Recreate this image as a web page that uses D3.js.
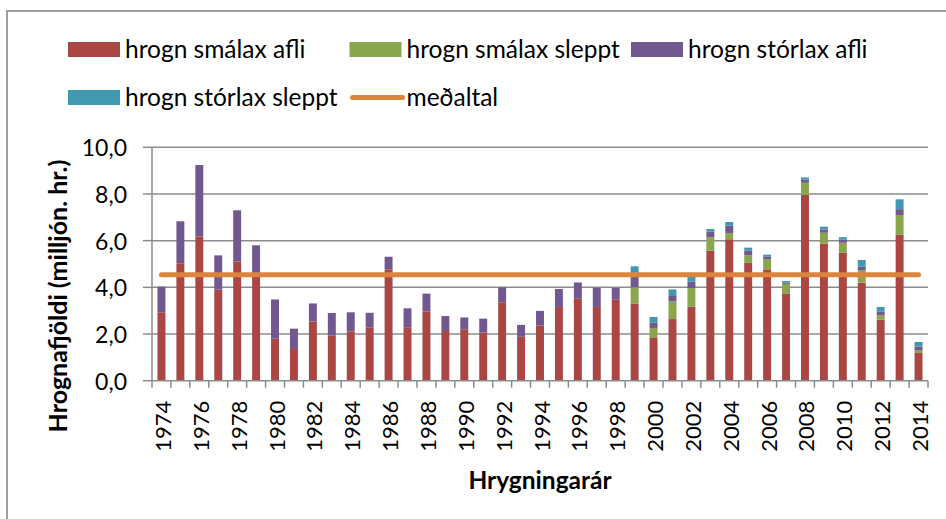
<!DOCTYPE html>
<meta charset="utf-8">
<head>
<script src="https://d3js.org/d3.v7.min.js"></script>
<style>
  body { margin: 0; background: #fff; }
  text { font-family: Lato, "Open Sans", sans-serif; fill: #000; }
</style>
</head>
<body>
<div id="chart"></div>
<script>

// years (categories)
var years = [1974,1975,1976,1977,1978,1979,1980,1981,1982,1983,1984,1985,1986,1987,
  1988,1989,1990,1991,1992,1993,1994,1995,1996,1997,1998,1999,2000,2001,2002,2003,
  2004,2005,2006,2007,2008,2009,2010,2011,2012,2013,2014];

// hrogn smálax afli
var smalaxAfli = [2.93,5.03,6.18,3.90,5.11,4.55,1.80,1.36,2.54,1.93,2.11,2.27,4.77,2.29,
  2.97,2.13,2.20,2.06,3.36,1.88,2.36,3.16,3.51,3.16,3.49,3.31,1.83,2.64,3.17,5.57,
  6.06,5.05,4.77,3.74,7.97,5.87,5.48,4.20,2.61,6.25,1.19];

// hrogn smálax sleppt
var smalaxSleppt = [0,0,0,0,0,0,0,0,0,0,0,0,0,0,
  0,0,0,0,0,0,0,0,0,0,0,0.70,0.43,0.76,0.80,0.57,
  0.27,0.33,0.44,0.41,0.51,0.47,0.43,0.54,0.20,0.85,0.12];

// hrogn stórlax afli
var storlaxAfli = [1.10,1.80,3.06,1.47,2.19,1.25,1.68,0.87,0.77,0.97,0.82,0.64,0.54,0.81,
  0.76,0.64,0.51,0.60,0.64,0.51,0.63,0.77,0.70,0.82,0.49,0.62,0.22,0.23,0.27,0.24,
  0.31,0.19,0.10,0.06,0.13,0.14,0.13,0.14,0.16,0.25,0.15];

// hrogn stórlax sleppt
var storlaxSleppt = [0,0,0,0,0,0,0,0,0,0,0,0,0,0,
  0,0,0,0,0,0,0,0,0,0,0,0.27,0.25,0.28,0.21,0.12,
  0.16,0.13,0.09,0.06,0.10,0.12,0.11,0.29,0.19,0.42,0.20];

// meðaltal
var medaltal = 4.54;

var seriesNames = ["hrogn smálax afli", "hrogn smálax sleppt", "hrogn stórlax afli", "hrogn stórlax sleppt"];
var lineName = "meðaltal";
var yTicks = [0, 2, 4, 6, 8, 10];

var colors = ["#AA4643", "#89A54E", "#71588F", "#4198AF"];
var lineColor = "#DB843D";

var W = 946, H = 519;
var margin = {top: 147.3, right: 18, bottom: 138.3, left: 152};
var width = W - margin.left - margin.right,
    height = H - margin.top - margin.bottom;

var svg = d3.select("#chart").append("svg")
  .attr("width", W).attr("height", H);

svg.append("rect").attr("width", W).attr("height", H).attr("fill", "#fff");

// chart border (only left and top visible)
svg.append("path")
  .attr("d", "M7,519V11H946")
  .attr("fill", "none").attr("stroke", "#a0a0a0").attr("stroke-width", 2);

var g = svg.append("g")
  .attr("transform", "translate(" + margin.left + "," + margin.top + ")");

var x = d3.scaleBand().domain(years).range([0, width]).paddingInner(0.58).paddingOuter(0.29);
var y = d3.scaleLinear().domain([0, 10]).range([height, 0]);

// gridlines
g.append("g").selectAll("line").data(yTicks.slice(1)).join("line")
  .attr("x1", 0).attr("x2", width)
  .attr("y1", function(d) { return y(d); }).attr("y2", function(d) { return y(d); })
  .attr("stroke", "#8c8c8c").attr("stroke-width", 1.5);

// stacked bars
var table = years.map(function(yr, i) {
  return {year: yr, a: smalaxAfli[i], b: smalaxSleppt[i], c: storlaxAfli[i], d: storlaxSleppt[i]};
});
var stack = d3.stack().keys(["a", "b", "c", "d"])(table);

g.append("g").selectAll("g").data(stack).join("g")
  .attr("fill", function(d, i) { return colors[i]; })
  .selectAll("rect").data(function(d) { return d; }).join("rect")
    .attr("x", function(d) { return x(d.data.year); })
    .attr("width", x.bandwidth())
    .attr("y", function(d) { return y(d[1]); })
    .attr("height", function(d) { return y(d[0]) - y(d[1]); });

// average line
g.append("path")
  .datum([years[0], years[years.length - 1]])
  .attr("fill", "none").attr("stroke", lineColor).attr("stroke-width", 5)
  .attr("stroke-linecap", "round")
  .attr("d", d3.line()
    .x(function(d) { return x(d) + x.bandwidth() / 2; })
    .y(function() { return y(medaltal); }));

// y axis
var yAxis = g.append("g");
yAxis.append("line").attr("x1", 0).attr("x2", 0).attr("y1", 0).attr("y2", height)
  .attr("stroke", "#8c8c8c").attr("stroke-width", 1.5);
yAxis.selectAll(".tk").data(yTicks).join("line")
  .attr("x1", -9).attr("x2", 0)
  .attr("y1", function(d) { return y(d); }).attr("y2", function(d) { return y(d); })
  .attr("stroke", "#8c8c8c").attr("stroke-width", 1.5);
yAxis.selectAll("text").data(yTicks).join("text")
  .attr("x", -25).attr("y", function(d) { return y(d); })
  .attr("text-anchor", "end").attr("dominant-baseline", "central")
  .style("font-size", "23px")
  .text(function(d) { return d3.format(".1f")(d).replace(".", ","); });

// x axis
var xAxis = g.append("g").attr("transform", "translate(0," + height + ")");
xAxis.append("line").attr("x1", 0).attr("x2", width)
  .attr("stroke", "#8c8c8c").attr("stroke-width", 1.5);
var step = x.step();
xAxis.selectAll(".tk").data(d3.range(years.length + 1)).join("line")
  .attr("x1", function(i) { return i * step; }).attr("x2", function(i) { return i * step; })
  .attr("y1", 0).attr("y2", 7)
  .attr("stroke", "#8c8c8c").attr("stroke-width", 1.5);
xAxis.selectAll("text").data(years.filter(function(d, i) { return i % 2 === 0; })).join("text")
  .attr("transform", function(d) {
    return "translate(" + (x(d) + x.bandwidth() / 2 + 1) + ",20) rotate(-90)";
  })
  .attr("text-anchor", "end").attr("dominant-baseline", "central")
  .style("font-size", "22px")
  .text(function(d) { return d; });

// axis titles
svg.append("text")
  .attr("transform", "translate(57,296) rotate(-90)")
  .attr("text-anchor", "middle").attr("dominant-baseline", "central")
  .style("font-size", "25px").style("font-weight", "bold")
  .text("Hrognafjöldi (milljón. hr.)");

svg.append("text")
  .attr("x", margin.left + width / 2).attr("y", 479)
  .attr("text-anchor", "middle").attr("dominant-baseline", "central")
  .style("font-size", "24.5px").style("font-weight", "bold")
  .text("Hrygningarár");

// legend
var legendItems = seriesNames.map(function(n, i) { return {name: n, color: colors[i], line: false}; });
legendItems.push({name: lineName, color: lineColor, line: true});

var legend = svg.append("g").selectAll("g").data(legendItems).join("g")
  .attr("transform", function(d, i) {
    return "translate(" + (68 + (i % 3) * 281.5) + "," + (49.5 + Math.floor(i / 3) * 48) + ")";
  });
legend.filter(function(d) { return !d.line; }).append("rect")
  .attr("x", 0).attr("y", -7.5).attr("width", 52).attr("height", 15)
  .attr("fill", function(d) { return d.color; });
legend.filter(function(d) { return d.line; }).append("line")
  .attr("x1", 3).attr("x2", 53).attr("y1", 0).attr("y2", 0)
  .attr("stroke", function(d) { return d.color; }).attr("stroke-width", 5)
  .attr("stroke-linecap", "round");
legend.append("text")
  .attr("x", 57).attr("y", 8)
  .style("font-size", "24.5px")
  .text(function(d) { return d.name; });

</script>
</body>
</html>
